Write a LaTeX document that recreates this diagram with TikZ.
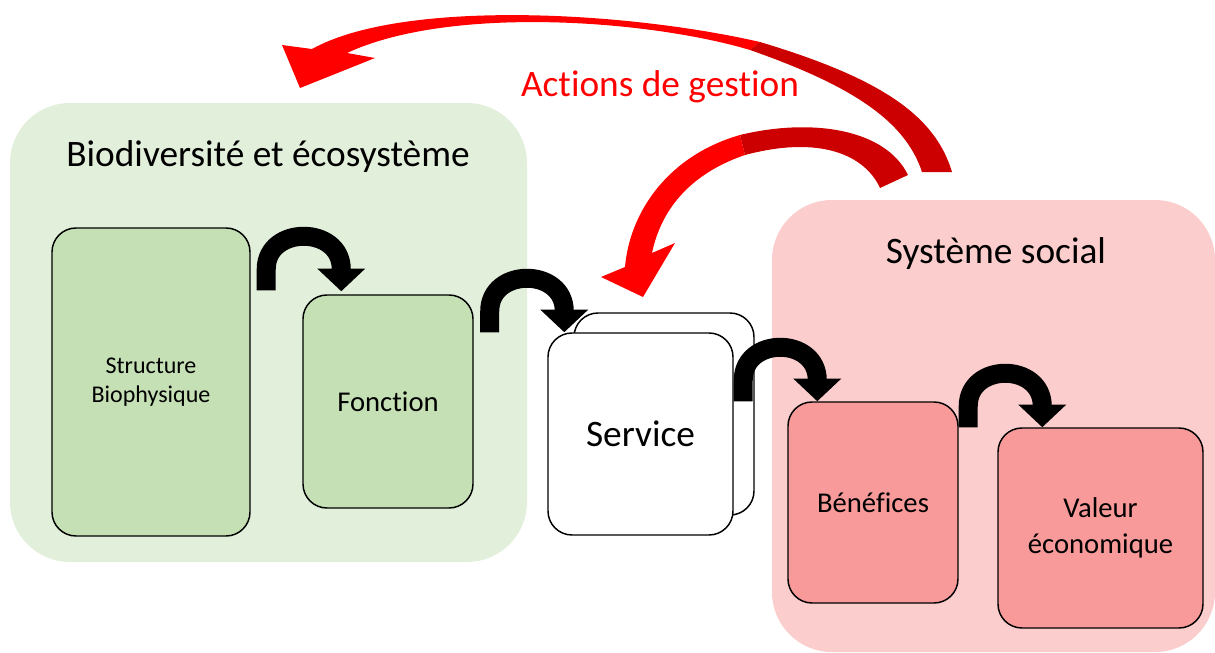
\documentclass[tikz,border=0pt]{standalone}
\usepackage{fontspec}
\setmainfont[Ligatures=NoCommon]{Carlito}
\usetikzlibrary{positioning,calc,arrows.meta}
\definecolor{bioback}{HTML}{E2EFDA}
\definecolor{biobox}{HTML}{C5E0B4}
\definecolor{socback}{HTML}{FBCDCD}
\definecolor{socbox}{HTML}{F89A9A}
\definecolor{gestred}{HTML}{FF0000}
\definecolor{gestdark}{HTML}{CC0000}

\begin{document}
\begin{tikzpicture}[
    x=0.75pt, y=-0.75pt,
    region/.style={rounded corners=45pt, inner sep=0pt},
    box/.style={draw, line width=1.1pt, rounded corners=18pt, inner sep=0pt, align=center},
    title/.style={font=\fontsize{28}{32}\selectfont},
    label/.style={font=\fontsize{21.5}{27}\selectfont, align=center},
    turn/.style={line width=14.25pt, -{Triangle[width=35pt,length=17pt]}}
]
\useasboundingbox (0,0) rectangle (1215,653);

% regions
\node[region, fill=bioback, minimum width=387.75pt, minimum height=344.25pt] (bio) at (268.5,332.5) {};
\node[region, fill=socback, minimum width=332.25pt, minimum height=339pt] (soc) at (993.5,426) {};
\node[title] (biotitle) at (268,157) {Biodiversité et écosystème};
\node[title] (soctitle) at (996,254) {Système social};

% boxes
\node[box, fill=biobox, minimum width=148.5pt, minimum height=231pt,
      font=\fontsize{18}{22}\selectfont] (sbio) at (151,382) {Structure\\Biophysique};
\node[box, fill=biobox, minimum width=127.5pt, minimum height=159.75pt, label] (fonc) at (388,401.5) {Fonction};
\node[box, fill=white, minimum width=135pt, minimum height=151.5pt] (svcback) at (664,414) {};
\node[box, fill=white, minimum width=138.75pt, minimum height=151.5pt,
      font=\fontsize{28}{32}\selectfont] (svc) at (640.5,434) {Service};
\node[box, fill=socbox, minimum width=127.5pt, minimum height=150.75pt, label] (bene) at (873,502.5) {Bénéfices};
\node[box, fill=socbox, minimum width=153.75pt, minimum height=150pt, label] (val) at (1100.5,528) {Valeur\\économique};

% black arrows
\draw[turn] ($(sbio.north east)+(15.5,63)$) -- ++(0,-21)
    .. controls +(0,-44) and +(0,-44) .. ($(fonc.north west)+(39,-25)$) -- ($(fonc.north west)+(39,-3)$);
\draw[turn] ($(fonc.north east)+(16,38)$) -- ++(0,-21)
    .. controls +(0,-44) and +(0,-44) .. ($(svc.north west)+(17,-21)$) -- ($(svc.north west)+(17,0)$);
\draw[turn] ($(svc.north east)+(9.5,69)$) -- ++(0,-21)
    .. controls +(0,-44) and +(0,-44) .. ($(bene.north west)+(30,-21)$) -- ($(bene.north west)+(30,0)$);
\draw[turn] ($(bene.north east)+(9.5,26)$) -- ++(0,-21)
    .. controls +(0,-44) and +(0,-44) .. ($(val.north west)+(45,-21)$) -- ($(val.north west)+(45,0)$);

% management actions
\node[title, text=gestred] (gest) at (660,87) {Actions de gestion};
\fill[gestred] (312,49) -- (282,45) -- (300,88) -- (375,58) -- (347,53)
    .. controls (450,5) and (650,20) .. (750,50) -- (760,42)
    .. controls (620,10) and (400,0) .. (312,49) -- cycle;
\fill[gestdark] (760,42) .. controls (880,78) and (935,115) .. (952,172) -- (922,172)
    .. controls (905,120) and (850,85) .. (750,50) -- cycle;
\fill[gestred] (625,267) -- (601,277) -- (643,297) -- (675,243) -- (652,253)
    .. controls (662,205) and (695,172) .. (745,155) -- (740,135)
    .. controls (670,155) and (630,210) .. (625,267) -- cycle;
\fill[gestdark] (740,135) .. controls (810,118) and (885,128) .. (908,175) -- (880,188)
    .. controls (865,155) and (820,135) .. (745,155) -- cycle;
\end{tikzpicture}
\end{document}
